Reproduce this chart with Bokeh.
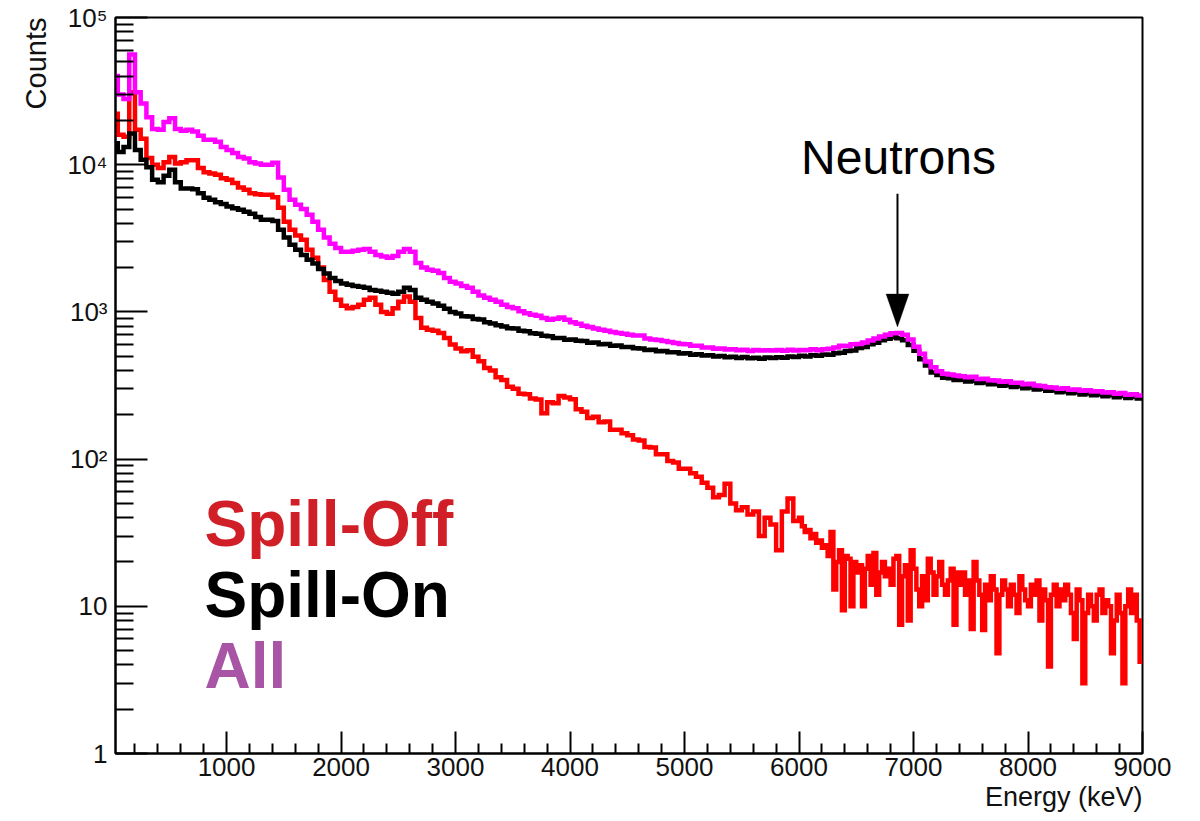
import numpy as np
from bokeh.plotting import figure
from bokeh.models import FixedTicker, Label, PolyAnnotation, Arrow, Range1d, Title
from bokeh.embed import file_html
from bokeh.resources import INLINE

# ---------------- data (counts per bin) ----------------
bin_width = 50          # keV, main binning
tail_start = 6000       # keV, Spill-Off drawn with finer bins beyond this
tail_width = 25         # keV
e_max = 9000

all_counts = [
    40000, 30000, 28000, 56000, 31000, 26000, 21000, 17500, 17300, 19500,
    20700, 17500, 17000, 17300, 16800, 15700, 14800, 14800, 14300, 13200,
    12600, 12000, 11300, 11000, 10400, 10200, 10000, 10000, 10300, 8200,
    6760, 5780, 5350, 5000, 4570, 4100, 3610, 3200, 2900, 2720,
    2560, 2560, 2600, 2640, 2680, 2560, 2440, 2380, 2330, 2400,
    2560, 2680, 2560, 2150, 2000, 1930, 1900, 1840, 1700, 1600,
    1560, 1500, 1460, 1370, 1290, 1250, 1210, 1170, 1120, 1080,
    1060, 1010, 980, 955, 940, 910, 883, 900, 915, 883,
    850, 830, 805, 790, 770, 755, 745, 730, 720, 710,
    700, 690, 690, 660, 650, 645, 635, 625, 615, 605,
    602, 588, 588, 572, 573, 562, 565, 556, 558, 548,
    553, 543, 552, 546, 548, 547, 551, 545, 553, 547,
    552, 549, 558, 548, 557, 562, 572, 588, 586, 603,
    605, 620, 640, 660, 680, 700, 715, 720, 700, 650,
    580, 520, 460, 420, 395, 380, 375, 370, 365, 360,
    362, 350, 352, 343, 342, 335, 338, 330, 330, 323,
    325, 316, 314, 308, 307, 300, 303, 296, 297, 291,
    294, 288, 289, 283, 285, 278, 281, 274, 276, 270,
]

spill_on = [
    14000, 12200, 13200, 16300, 12600, 10800, 9600, 7900, 7600, 8400,
    9250, 7600, 6900, 6900, 6800, 6400, 5960, 5780, 5560, 5400,
    5200, 5060, 4940, 4790, 4640, 4420, 4230, 4230, 4150, 3610,
    3200, 2860, 2640, 2440, 2260, 2130, 1960, 1820, 1700, 1620,
    1560, 1530, 1500, 1480, 1460, 1410, 1390, 1370, 1350, 1330,
    1370, 1460, 1410, 1250, 1210, 1170, 1140, 1100, 1050, 1000,
    975, 935, 930, 895, 888, 850, 835, 812, 795, 775,
    770, 745, 740, 715, 710, 688, 684, 665, 664, 648,
    650, 636, 634, 618, 619, 603, 605, 590, 592, 577,
    578, 566, 565, 551, 553, 541, 543, 532, 533, 522,
    523, 512, 515, 505, 508, 497, 501, 491, 495, 487,
    493, 484, 489, 480, 490, 486, 491, 488, 498, 494,
    503, 498, 508, 504, 513, 512, 523, 527, 543, 547,
    568, 578, 603, 617, 643, 657, 672, 662, 643, 596,
    545, 476, 433, 387, 372, 357, 354, 345, 346, 337,
    339, 329, 331, 322, 323, 315, 318, 309, 312, 303,
    306, 297, 300, 291, 293, 285, 288, 280, 283, 275,
    279, 271, 275, 267, 271, 263, 268, 260, 265, 258,
]

spill_off = [
    22200, 16000, 15500, 31000, 17300, 15000, 11100, 10000, 9500, 10400,
    11300, 10200, 10400, 10700, 10700, 9500, 8900, 8700, 8550, 8100,
    7900, 7500, 7000, 6760, 6400, 6300, 6250, 6250, 6000, 5100,
    4100, 3610, 3300, 3090, 2640, 2330, 2000, 1650, 1370, 1210,
    1100, 1060, 1080, 1120, 1210, 1250, 1120, 1000, 970, 1060,
    1170, 1270, 1170, 910, 780, 755, 745, 720, 665, 600,
    565, 540, 548, 495, 462, 415, 400, 360, 345, 310,
    300, 278, 276, 258, 254, 205, 243, 240, 268, 262,
    255, 218, 210, 190, 194, 178, 180, 158, 158, 150,
    145, 136, 134, 121, 120, 108, 108, 97, 95, 86,
    86, 80, 76, 69, 64, 55, 57, 68, 50, 45,
    47, 42, 44, 30, 40, 36, 24, 44, 54, 38,
]

spill_off_tail = [
    40, 35, 32, 33, 29, 31, 27, 28, 25, 26,
    22, 32, 13, 20, 24, 9.4, 22, 21, 10, 20,
    17, 19, 10, 18, 22, 14, 23, 12, 17, 20,
    16, 18, 14, 21, 22, 7.5, 16, 19, 8, 24,
    18, 13, 10, 16, 11, 21, 17, 12, 16, 20,
    14, 12, 15, 18, 7.5, 17, 14, 17, 12, 15,
    7, 20, 15, 12, 6.9, 14, 11, 16, 13, 4.8,
    12, 15, 13, 10, 14, 12, 9, 16, 13, 11,
    10, 14, 12, 15, 8, 13, 11, 3.9, 12, 14,
    10, 13, 11, 14, 12, 9, 6, 13, 11, 3,
    9, 12, 10, 8, 12, 13, 9, 11, 10, 4.8,
    8, 12, 9, 3, 10, 13, 9, 12, 8, 4.2,
]

x_major_ticks = [1000, 2000, 3000, 4000, 5000, 6000, 7000, 8000, 9000]
y_major_ticks = [1, 10, 100, 1000, 10000, 100000]
y_tick_labels = ["1", "10", "10\u00b2", "10\u00b3", "10\u2074", "10\u2075"]

legend_names = ["Spill-Off", "Spill-On", "All"]
legend_colors = ["#d01f27", "#000000", "#a855a5"]

neutron_energy = 6860     # keV, arrow position
arrow_top = 6350          # counts at arrow tail
arrow_tip = 790           # counts at arrow tip

# ---------------- helpers ----------------
def staircase(edges, vals):
    edges = np.asarray(edges, dtype=float)
    vals = np.asarray(vals, dtype=float)
    xs = np.repeat(edges, 2)[1:-1]
    ys = np.repeat(vals, 2)
    return xs, ys

main_edges = np.arange(0, e_max + 1, bin_width)
off_edges = np.concatenate([np.arange(0, tail_start, bin_width),
                            np.arange(tail_start, e_max + 1, tail_width)])

# ---------------- figure ----------------
p = figure(width=1200, height=821, y_axis_type="log",
           x_range=Range1d(30, e_max), y_range=Range1d(1, 1e5),
           output_backend="svg", toolbar_location=None,
           min_border_left=115, min_border_right=58,
           min_border_top=17, min_border_bottom=68)
p.background_fill_color = "white"
p.border_fill_color = "white"
p.grid.visible = False
p.outline_line_color = "black"
p.outline_line_width = 2

xs, ys = staircase(off_edges, spill_off + spill_off_tail)
p.line(xs, ys, line_color="#ff0000", line_width=4.5, line_join="miter")
xs, ys = staircase(main_edges, spill_on)
p.line(xs, ys, line_color="#000000", line_width=4.5, line_join="miter")
xs, ys = staircase(main_edges, all_counts)
p.line(xs, ys, line_color="#ff00ff", line_width=4.5, line_join="miter")

# axes
x_minor = [v for v in range(200, e_max, 200) if v % 1000 != 0]
p.xaxis.ticker = FixedTicker(ticks=x_major_ticks, minor_ticks=x_minor)
y_minor = [m * 10 ** d for d in range(5) for m in range(2, 10)]
p.yaxis.ticker = FixedTicker(ticks=y_major_ticks, minor_ticks=y_minor)
p.yaxis.major_label_overrides = {t: lab for t, lab in zip(y_major_ticks, y_tick_labels)}

for ax in (p.xaxis, p.yaxis):
    ax.axis_line_color = "black"
    ax.axis_line_width = 2
    ax.major_tick_line_color = "black"
    ax.minor_tick_line_color = "black"
    ax.major_tick_line_width = 2
    ax.minor_tick_line_width = 2
    ax.major_tick_out = 0
    ax.minor_tick_out = 0
    ax.major_label_text_font = "Liberation Sans"
    ax.major_label_text_font_size = "26px"
    ax.major_label_text_color = "#111111"

p.xaxis.major_tick_in = 22
p.xaxis.minor_tick_in = 10
p.xaxis.major_label_standoff = 4
p.yaxis.major_tick_in = 32
p.yaxis.minor_tick_in = 18
p.yaxis.major_label_standoff = 8

# axis titles (ROOT style: at the end of each axis)
p.add_layout(Title(text="Energy (keV)", align="right", text_font="Liberation Sans",
                   text_font_size="27px", text_font_style="normal",
                   text_color="#111111", standoff=3), "below")
p.add_layout(Title(text="Counts", align="right", text_font="Liberation Sans",
                   text_font_size="29px", text_font_style="normal",
                   text_color="#111111", standoff=26), "left")

def add_text(text, x, y, size, color="black", bold=False, align="left",
             baseline="alphabetic", angle=0.0):
    p.add_layout(Label(x=x, y=y, x_units="screen", y_units="screen", text=text,
                       text_font="Liberation Sans", text_font_size=size,
                       text_color=color, text_font_style="bold" if bold else "normal",
                       text_align=align, text_baseline=baseline, angle=angle))

# legend texts
for i, (name, col) in enumerate(zip(legend_names, legend_colors)):
    add_text(name, 89, 230 - 71 * i, "64px", color=col, bold=True)

# neutron annotation
add_text("Neutrons", 783, 596, "48px", align="center")
head_base = arrow_tip * 10 ** (33 / 147.2)
p.add_layout(Arrow(x_start=neutron_energy, y_start=arrow_top,
                   x_end=neutron_energy, y_end=head_base, end=None,
                   line_color="black", line_width=2))
p.add_layout(PolyAnnotation(xs=[neutron_energy - 100, neutron_energy + 100, neutron_energy],
                            ys=[head_base, head_base, arrow_tip],
                            fill_color="black", fill_alpha=1.0,
                            line_color="black", line_width=1))

open("out.html", "w").write(file_html(p, INLINE))
